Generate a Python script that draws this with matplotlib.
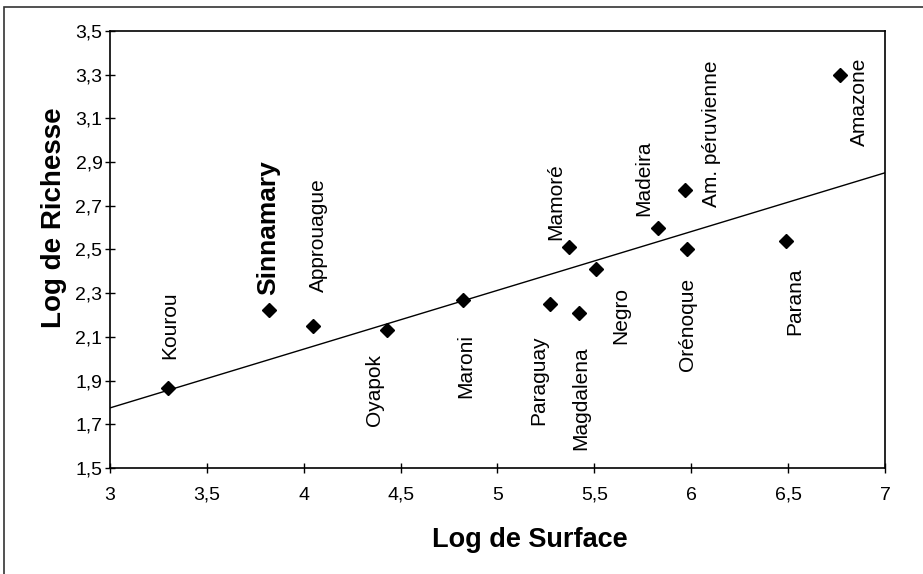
import matplotlib
matplotlib.use('Agg')
import matplotlib.pyplot as plt
from matplotlib.patches import Rectangle
import numpy as np

# data
rivers = ['Kourou', 'Sinnamary', 'Approuague', 'Oyapok', 'Maroni', 'Paraguay',
          'Magdalena', 'Mamoré', 'Negro', 'Madeira', 'Orénoque',
          'Am. péruvienne', 'Parana', 'Amazone']
log_surface = [3.30, 3.82, 4.05, 4.43, 4.82, 5.27, 5.42, 5.37, 5.51, 5.83,
               5.98, 5.97, 6.49, 6.77]
log_richesse = [1.866, 2.223, 2.15, 2.13, 2.27, 2.25, 2.21, 2.51, 2.41, 2.60,
                2.50, 2.77, 2.54, 3.30]
fit_slope = 0.269
fit_intercept = 0.968

x_ticks = [3, 3.5, 4, 4.5, 5, 5.5, 6, 6.5, 7]
y_ticks = [1.5, 1.7, 1.9, 2.1, 2.3, 2.5, 2.7, 2.9, 3.1, 3.3, 3.5]

# label offsets in pixels (dx, dy) from each point
offsets = {
    'Kourou': (2, 63), 'Sinnamary': (-1, 82), 'Approuague': (5, 91),
    'Oyapok': (-13, -60), 'Maroni': (3, -66), 'Paraguay': (-11, -76),
    'Magdalena': (2, -85), 'Mamoré': (-13, 46), 'Negro': (24, -46),
    'Madeira': (-15, 49), 'Orénoque': (0, -75), 'Am. péruvienne': (26, 57),
    'Parana': (9, -61), 'Amazone': (19, -27),
}

plt.rcParams['font.family'] = ['Liberation Sans', 'DejaVu Sans']

fig = plt.figure(figsize=(9.23, 5.74), dpi=100)
ax = fig.add_axes([0.1192, 0.1847, 0.8396, 0.7613])

# outer chart frame
fig.patches.append(Rectangle((4 / 923, -0.05), 1.2, 0.05 + 1 - 7 / 574,
                             transform=fig.transFigure, fill=False,
                             edgecolor='#333333', lw=1.2))

xs = np.array([3, 7])
ax.plot(xs, fit_intercept + fit_slope * xs, color='black', lw=1)
ax.plot(log_surface, log_richesse, 'D', color='black', markersize=7, zorder=3)

for name, x, y in zip(rivers, log_surface, log_richesse):
    dx, dy = offsets[name]
    bold = name == 'Sinnamary'
    ax.annotate(name, (x, y), xytext=(dx, dy), textcoords='offset pixels',
                rotation=90, ha='center', va='center',
                fontsize=19 if bold else 15,
                fontweight='bold' if bold else 'normal')

ax.set_xlim(3, 7)
ax.set_ylim(1.5, 3.5)
ax.set_xticks(x_ticks)
ax.set_yticks(y_ticks)
ax.set_xticklabels([f'{t:g}'.replace('.', ',') for t in x_ticks])
ax.set_yticklabels([f'{t:.1f}'.replace('.', ',') for t in y_ticks])
ax.tick_params(direction='inout', length=7, width=1, labelsize=14)
ax.tick_params(axis='x', pad=10)
ax.tick_params(axis='y', pad=2)
for s in ax.spines.values():
    s.set_linewidth(1.2)

ax.set_xlabel('Log de Surface', fontsize=19.5, fontweight='bold')
ax.set_ylabel('Log de Richesse', fontsize=20, fontweight='bold')
ax.xaxis.set_label_coords(0.542, -0.135)
ax.yaxis.set_label_coords(-0.056, 0.572)

fig.savefig('out.png', dpi=100)
